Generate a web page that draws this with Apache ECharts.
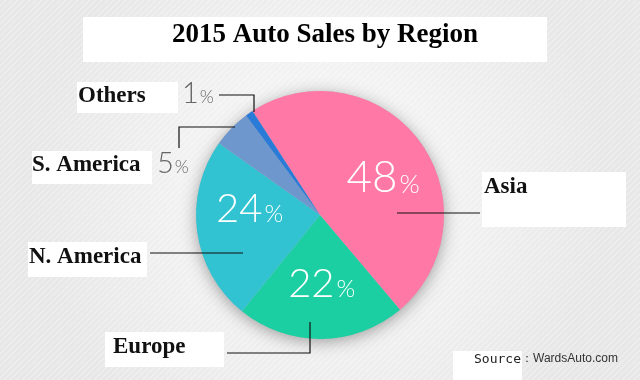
<!DOCTYPE html>
<html>
<head>
<meta charset="utf-8">
<script src="https://cdn.jsdelivr.net/npm/echarts@6/dist/echarts.min.js"></script>
<style>html,body{margin:0;padding:0;}#c{width:640px;height:380px;}</style>
</head>
<body>
<div id="c"></div>
<script>
// ---- data ----
const titleText = '2015 Auto Sales by Region';
const categories = ['Asia', 'Europe', 'N. America', 'S. America', 'Others'];
const shares = [48, 22, 24, 5, 1];
const sourceLabel = 'Source';
const sourceText = '：WardsAuto.com';

// ---- styles / layout (kept apart from data) ----
const palette = ['#ff78a6', '#1ccfa2', '#31c3d2', '#6e98cd', '#2a7ad8'];
const CENTER = [320, 215];
const RADIUS = 124;
const pctLayout = [
  {dx: 11, dy: 2},
  {dx: 1, dy: 4},
  {dx: -6, dy: -15},
  {x: 157, y: 164, align: 'left', verticalAlign: 'middle'},
  {x: 182, y: 94, align: 'left', verticalAlign: 'middle'}
];
const nameLayout = [
  {x: 484, y: 187, pts: [[480, 213], [440, 213], [397, 213]]},
  {x: 113, y: 347, pts: [[227, 353], [310, 353], [310, 322]]},
  {x: 29, y: 257, pts: [[150, 253], [200, 253], [243, 253]]},
  {x: 32, y: 165, pts: [[179, 148], [179, 127], [235, 127]]},
  {x: 78, y: 96, pts: [[219, 95], [254, 95], [254, 112]]}
];
const boxes = [
  [83, 17, 464, 45],
  [482, 172, 144, 55],
  [105, 332, 119, 35],
  [28, 242, 119, 35],
  [32, 151, 120, 33],
  [77, 82, 101, 31],
  [453, 351, 69, 29]
];

// stripe pattern
const pc = document.createElement('canvas');
pc.width = 6; pc.height = 6;
const pctx = pc.getContext('2d');
pctx.strokeStyle = 'rgba(255,255,255,0.4)';
pctx.lineWidth = 1.2;
pctx.beginPath();
pctx.moveTo(-1, 7); pctx.lineTo(7, -1);
pctx.moveTo(-1, 1); pctx.lineTo(1, -1);
pctx.moveTo(5, 7); pctx.lineTo(7, 5);
pctx.stroke();

const chart = echarts.init(document.getElementById('c'), null, {renderer: 'canvas'});

const seriesData = categories.map((c, i) => ({
  name: c,
  value: shares[i],
  itemStyle: {color: palette[i]}
}));
const total = shares.reduce((a, b) => a + b, 0);

const graphics = [
  {type: 'rect', z: -20, silent: true, shape: {x: 0, y: 0, width: 640, height: 380},
   style: {fill: {type: 'radial', x: 0.5, y: 0.5, r: 0.75,
     colorStops: [{offset: 0, color: '#fbfbfb'}, {offset: 1, color: '#e7e7e7'}]}}},
  {type: 'rect', z: -19, silent: true, shape: {x: 0, y: 0, width: 640, height: 380},
   style: {fill: {image: pc, repeat: 'repeat'}}}
];
boxes.forEach(b => graphics.push({type: 'rect', z: -5, silent: true,
  shape: {x: b[0], y: b[1], width: b[2], height: b[3]}, style: {fill: '#ffffff'}}));
graphics.push({type: 'text', z: 10, left: 474, top: 353,
  style: {text: sourceLabel, font: '13px "DejaVu Sans Mono"', fill: '#222'}});
graphics.push({type: 'text', z: 10, left: 521, top: 353,
  style: {text: sourceText, font: '12px "Liberation Sans"', fill: '#333'}});

const option = {
  animation: false,
  title: {
    text: titleText, left: 172, top: 22, padding: 0,
    textStyle: {fontFamily: '"Liberation Serif", "Times New Roman", serif', fontWeight: 'bold', fontSize: 27, color: '#000'}
  },
  graphic: graphics,
  series: [
    {
      type: 'pie', silent: true, z: 1,
      center: CENTER, radius: RADIUS,
      label: {show: false}, labelLine: {show: false},
      itemStyle: {color: '#bbbbbb', shadowBlur: 16, shadowColor: 'rgba(0,0,0,0.35)', shadowOffsetY: 3},
      data: [{name: 'total', value: total}]
    },
    {
      type: 'pie', silent: true, z: 2,
      center: CENTER, radius: RADIUS, startAngle: 123, clockwise: true,
      avoidLabelOverlap: false,
      label: {
        show: true, position: 'inside',
        formatter: p => {
          const i = p.dataIndex;
          if (i === 0) return '{a|' + p.value + '}{ap|%}';
          if (p.value >= 10) return '{b|' + p.value + '}{bp|%}';
          return '{c|' + p.value + '}{cp|%}';
        },
        rich: {
          a: {fontFamily: 'Lato', fontWeight: 300, fontSize: 44, color: '#fff', verticalAlign: 'bottom'},
          ap: {fontFamily: 'Lato', fontWeight: 300, fontSize: 26, color: '#fff', verticalAlign: 'bottom', padding: [0, 0, 3, 2]},
          b: {fontFamily: 'Lato', fontWeight: 300, fontSize: 40, color: '#fff', verticalAlign: 'bottom'},
          bp: {fontFamily: 'Lato', fontWeight: 300, fontSize: 24, color: '#fff', verticalAlign: 'bottom', padding: [0, 0, 3, 2]},
          c: {fontFamily: 'Lato', fontWeight: 300, fontSize: 29, color: '#666', verticalAlign: 'bottom'},
          cp: {fontFamily: 'Lato', fontWeight: 300, fontSize: 18, color: '#666', verticalAlign: 'bottom', padding: [0, 0, 2, 1]}
        }
      },
      labelLine: {show: false},
      labelLayout: p => pctLayout[p.dataIndex],
      data: seriesData
    },
    {
      type: 'pie', silent: true, z: 3,
      center: CENTER, radius: RADIUS, startAngle: 123, clockwise: true,
      avoidLabelOverlap: false,
      itemStyle: {color: 'rgba(0,0,0,0)'},
      label: {
        show: true, position: 'outside',
        formatter: '{b}',
        fontFamily: '"Liberation Serif", "Times New Roman", serif',
        fontWeight: 'bold', fontSize: 23, color: '#111'
      },
      labelLine: {show: true, lineStyle: {color: '#111', width: 1.2}},
      labelLayout: p => {
        const L = nameLayout[p.dataIndex];
        return {x: L.x, y: L.y, align: 'left', verticalAlign: 'middle', labelLinePoints: L.pts};
      },
      data: categories.map((c, i) => ({name: c, value: shares[i]}))
    }
  ]
};
chart.setOption(option);
</script>
</body>
</html>
